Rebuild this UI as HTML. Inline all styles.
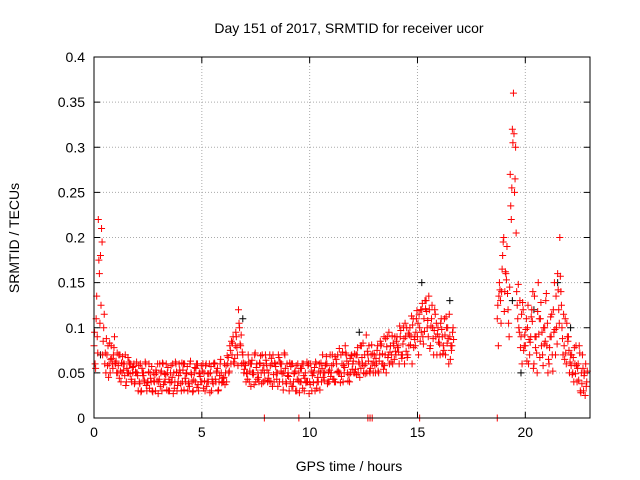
<!DOCTYPE html>
<html><head><meta charset="utf-8"><style>
body{margin:0;background:#fff;}
svg{display:block;font-family:"Liberation Sans",sans-serif;}
</style></head><body>
<svg id="chart" width="640" height="480" viewBox="0 0 640 480">
<text x="349" y="33" font-size="14" text-anchor="middle">Day 151 of 2017, SRMTID for receiver ucor</text>
<text x="349" y="471" font-size="14" text-anchor="middle">GPS time / hours</text>
<text transform="translate(19,238) rotate(-90)" font-size="14" text-anchor="middle">SRMTID / TECUs</text>
<g id="grid"></g>
<g id="axes"></g>
<g id="marks"></g>
<rect x="94" y="57" width="496" height="361" fill="none" stroke="#000" stroke-width="1"/>
</svg>
<script>
const xTicks=[0,5,10,15,20];
const yTicks=[0,0.05,0.1,0.15,0.2,0.25,0.3,0.35,0.4];
const yTickLabels=["0","0.05","0.1","0.15","0.2","0.25","0.3","0.35","0.4"];
const seg1Start=0.0, seg2Start=18.7, step=0.1;
const seriesA1=[.08,.11,.22,.18,.07,.06,.07,.06,.08,.07,
.06,.05,.07,.05,.06,.04,.05,.06,.05,.04,
.05,.04,.03,.05,.06,.04,.05,.03,.04,.05,
.04,.05,.06,.04,.05,.03,.04,.05,.06,.04,
.05,.04,.06,.05,.04,.05,.03,.04,.06,.05,
.04,.05,.06,.04,.05,.04,.06,.05,.04,.05,
.04,.05,.06,.08,.07,.06,.09,.12,.08,.07,
.06,.05,.04,.06,.05,.04,.05,.06,.07,.05,
.06,.05,.04,.07,.06,.05,.04,.06,.05,.04,
.05,.04,.06,.05,.03,.05,.04,.06,.05,.04,
.04,.03,.05,.06,.04,.05,.07,.05,.06,.04,
.05,.06,.04,.07,.05,.06,.05,.07,.06,.05,
.06,.05,.07,.06,.08,.05,.06,.07,.05,.06,
.07,.06,.05,.08,.06,.07,.09,.06,.07,.08,
.07,.08,.09,.07,.06,.10,.08,.09,.11,.08,
.09,.10,.12,.11,.13,.09,.08,.10,.12,.07,
.09,.11,.08,.07,.10,.09,.08];
const seriesB1=[.06,.09,.16,.21,.10,.05,.08,.05,.06,.09,
.05,.07,.04,.06,.07,.05,.06,.04,.06,.05,
.03,.06,.05,.04,.03,.06,.04,.05,.03,.06,
.06,.03,.04,.06,.03,.05,.06,.04,.03,.06,
.03,.06,.04,.03,.06,.04,.05,.06,.03,.04,
.06,.03,.04,.06,.03,.06,.04,.03,.06,.04,
.06,.04,.05,.06,.09,.08,.07,.10,.06,.05,
.04,.07,.06,.05,.07,.06,.04,.05,.04,.07,
.04,.07,.06,.04,.05,.07,.06,.04,.07,.06,
.03,.06,.04,.03,.06,.04,.06,.03,.04,.06,
.06,.05,.03,.04,.06,.04,.05,.06,.04,.07,
.07,.04,.06,.05,.07,.04,.08,.05,.04,.07,
.05,.07,.05,.08,.06,.07,.05,.08,.07,.05,
.05,.08,.07,.06,.09,.05,.07,.08,.06,.09,
.09,.06,.07,.10,.09,.07,.10,.06,.09,.11,
.07,.12,.09,.13,.10,.12,.11,.07,.09,.10,
.07,.09,.11,.10,.06,.08,.10];
const seriesC1=[.095,.135,.175,.125,.085,.072,.058,.083,.066,.078,
.063,.058,.052,.068,.047,.055,.062,.043,.057,.051,
.047,.038,.055,.042,.036,.051,.044,.029,.048,.041,
.043,.052,.037,.048,.056,.039,.045,.033,.051,.047,
.038,.053,.044,.057,.035,.048,.042,.055,.037,.046,
.052,.041,.035,.049,.057,.038,.043,.055,.047,.039,
.045,.058,.067,.075,.083,.066,.078,.105,.092,.061,
.058,.043,.052,.064,.037,.056,.045,.069,.053,.042,
.053,.041,.066,.048,.057,.035,.062,.049,.072,.038,
.046,.057,.035,.052,.043,.028,.055,.047,.039,.058,
.037,.047,.056,.033,.052,.061,.045,.058,.038,.053,
.058,.043,.065,.052,.039,.073,.056,.063,.048,.069,
.063,.054,.078,.045,.067,.058,.092,.063,.055,.071,
.058,.075,.063,.082,.054,.088,.067,.073,.091,.065,
.085,.073,.097,.082,.105,.067,.092,.113,.078,.095,
.105,.085,.127,.096,.118,.135,.102,.088,.115,.093,
.082,.098,.075,.112,.088,.065,.095];
const seriesD1=[.055,.072,.105,.195,.115,.088,.045,.065,.055,.061,
.072,.044,.061,.053,.036,.067,.049,.056,.038,.062,
.058,.029,.047,.062,.039,.033,.057,.041,.053,.027,
.035,.061,.049,.031,.043,.058,.027,.062,.036,.053,
.061,.031,.049,.038,.063,.029,.056,.034,.049,.058,
.033,.058,.049,.028,.043,.061,.052,.031,.065,.044,
.037,.069,.052,.085,.062,.095,.058,.082,.073,.054,
.049,.062,.035,.048,.072,.043,.061,.038,.058,.064,
.044,.058,.035,.061,.043,.067,.052,.031,.055,.047,
.061,.035,.049,.058,.041,.055,.033,.044,.062,.027,
.052,.039,.062,.045,.031,.055,.042,.068,.051,.046,
.043,.068,.051,.077,.046,.058,.072,.041,.066,.054,
.071,.048,.062,.055,.083,.049,.074,.052,.081,.062,
.066,.052,.085,.071,.058,.079,.095,.062,.083,.074,
.078,.102,.066,.088,.074,.094,.081,.103,.087,.119,
.115,.095,.082,.121,.108,.077,.125,.097,.105,.084,
.105,.071,.092,.083,.115,.075,.087];
const seriesA2=[.11,.15,.14,.20,.16,.12,.27,.32,.25,.14,.10,.09,.12,.08,.10,.07,.12,.06,.09,.15,.11,.07,.10,.08,.06,.09,.12,.07,.16,.20,.10,.08,.06,.09,.07,.05,.06,.04,.08,.05,.03,.06];
const seriesB2=[.08,.13,.18,.14,.19,.09,.22,.36,.30,.11,.13,.06,.08,.11,.06,.09,.14,.09,.05,.11,.08,.10,.13,.05,.09,.07,.15,.10,.12,.14,.07,.11,.09,.05,.07,.04,.08,.06,.03,.07,.05,.04];
const seriesC2=[.125,.142,.165,.118,.153,.105,.235,.305,.265,.125,.095,.115,.075,.098,.125,.084,.107,.135,.072,.093,.128,.058,.085,.105,.078,.115,.095,.135,.142,.157,.088,.065,.105,.075,.058,.067,.049,.055,.072,.038,.047,.035];
const seriesD2=[.135,.105,.195,.162,.138,.145,.255,.315,.205,.148,.078,.128,.092,.063,.087,.112,.055,.078,.118,.067,.095,.082,.138,.065,.112,.052,.098,.082,.105,.125,.115,.072,.085,.062,.048,.078,.058,.042,.028,.055,.025,.052];
const zeroTimes=[7.9,9.5,12.7,12.8,12.9,15.1,18.7];
const blackTimes=[0.3,6.9,12.3,15.2,16.5,19.4,19.8,20.4,21.5,22.1];
const blackVals=[0.07,0.11,0.095,0.15,0.13,0.13,0.05,0.12,0.15,0.1];

const X0=94,X1=590,Y0=418,Y1=57,XMAX=23,YMAX=0.4;
const sx=v=>X0+(X1-X0)*v/XMAX;
const sy=v=>Y0-(Y0-Y1)*v/YMAX;
const NS="http://www.w3.org/2000/svg";
const grid=document.getElementById('grid'),axes=document.getElementById('axes'),marks=document.getElementById('marks');
function mk(tag,attrs,parent){const e=document.createElementNS(NS,tag);for(const k in attrs)e.setAttribute(k,attrs[k]);parent.appendChild(e);return e;}
xTicks.forEach((t,i)=>{
  const x=sx(t);
  if(t>0){const g=mk('line',{x1:x,x2:x,y1:Y0,y2:Y1,stroke:'#aaa','stroke-dasharray':'1,2'},grid);
  
  }
  mk('line',{x1:x,x2:x,y1:Y0,y2:Y0-6,stroke:'#000'},axes);
  mk('line',{x1:x,x2:x,y1:Y1,y2:Y1+6,stroke:'#000'},axes);
  const tx=mk('text',{x:x,y:Y0+19,'font-size':14,'text-anchor':'middle'},axes);tx.textContent=t;
  
  
});
yTicks.forEach((t,i)=>{
  const y=sy(t);
  if(t>0&&t<0.4){const g=mk('line',{x1:X0,x2:X1,y1:y,y2:y,stroke:'#aaa','stroke-dasharray':'1,2'},grid);
  
  }
  mk('line',{x1:X0,x2:X0+6,y1:y,y2:y,stroke:'#000'},axes);
  mk('line',{x1:X1,x2:X1-6,y1:y,y2:y,stroke:'#000'},axes);
  const tx=mk('text',{x:X0-9,y:y+5,'font-size':14,'text-anchor':'end'},axes);tx.textContent=yTickLabels[i];
  
  
});
function cross(t,v,color){
  const x=sx(t),y=sy(v);
  const p=mk('path',{d:`M${x-3.5},${y}h7M${x},${y-3.5}v7`,stroke:color,'stroke-width':1,fill:'none'},marks);
  
  
}
blackTimes.forEach((t,i)=>cross(t,blackVals[i],'#000'));
seriesA1.forEach((v,i)=>cross(seg1Start+i*step,v,'#f00'));
seriesB1.forEach((v,i)=>cross(seg1Start+i*step+0.05,v,'#f00'));
seriesC1.forEach((v,i)=>cross(seg1Start+i*step+0.025,v,'#f00'));
seriesD1.forEach((v,i)=>cross(seg1Start+i*step+0.075,v,'#f00'));
seriesA2.forEach((v,i)=>cross(seg2Start+i*step,v,'#f00'));
seriesB2.forEach((v,i)=>cross(seg2Start+i*step+0.05,v,'#f00'));
seriesC2.forEach((v,i)=>cross(seg2Start+i*step+0.025,v,'#f00'));
seriesD2.forEach((v,i)=>cross(seg2Start+i*step+0.075,v,'#f00'));
zeroTimes.forEach(t=>cross(t,0,'#f00'));
</script>
</body></html>
